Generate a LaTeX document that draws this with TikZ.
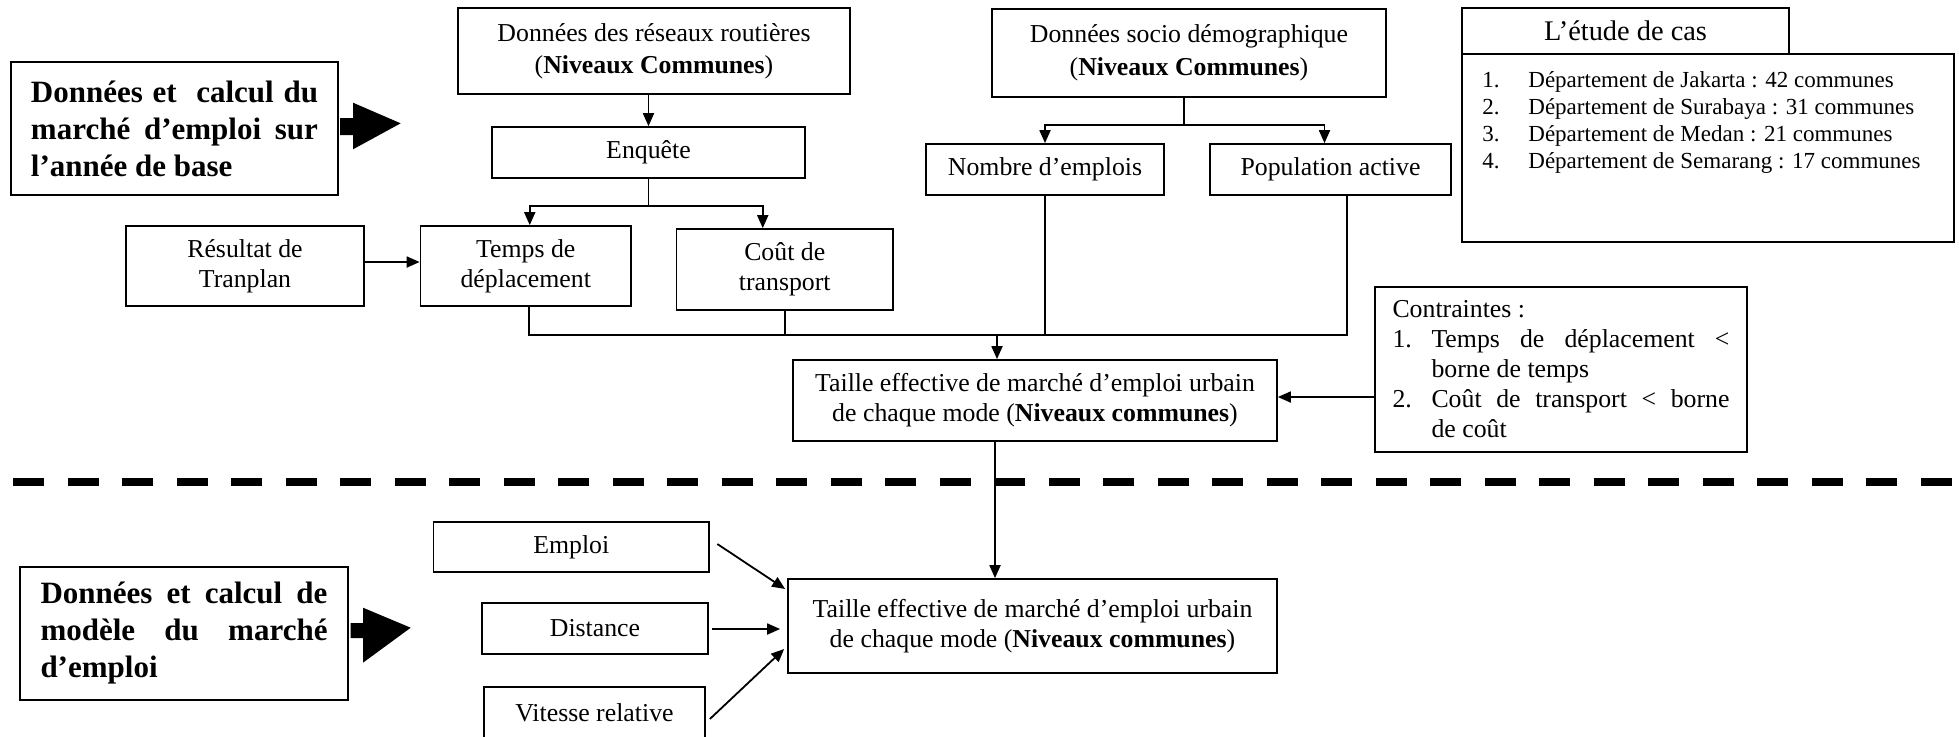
\documentclass[tikz,border=0pt]{standalone}
\usepackage{fontspec}
\setmainfont{Liberation Serif}
\usetikzlibrary{arrows.meta,calc}
\newcommand\fmain{\fontsize{12.9pt}{15pt}\selectfont}
\newcommand\fbold{\fontsize{15.5pt}{18.5pt}\selectfont\bfseries}
\newcommand\flist{\fontsize{11.5pt}{13.5pt}\selectfont}
\newcommand\ftitle{\fontsize{14.2pt}{16pt}\selectfont}
\begin{document}
\begin{tikzpicture}[x=0.5pt,y=-0.5pt,
  box/.style={draw,line width=0.85pt,inner sep=0pt,align=center,font=\fmain},
  conn/.style={line width=0.9pt},
  arr/.style={conn,-{Triangle[length=6.5pt,width=5.5pt]}},
  blockarrow/.style={fill=black},
  separator/.style={line width=3.6pt,dash pattern=on 15.5pt off 11.75pt}]
\useasboundingbox (0,0) rectangle (1959,736);
\fill[white] (0,0) rectangle (1959,736);

% ---------------- upper part ----------------
\node[box,font=\fbold,minimum width=163.5pt,minimum height=66.5pt] (calcA) at (174.5,128.5)
 {\makebox[143.5pt][s]{Données et\ \ calcul du}\\\makebox[143.5pt][s]{marché d’emploi sur}\\\makebox[143.5pt][l]{l’année de base}};
\fill[blockarrow] (340,118) -- (353,118) -- (353,102.7) -- (400.7,123.3) -- (353,149.3) -- (353,135) -- (340,135) -- cycle;

\node[box,minimum width=196pt,minimum height=43pt,font=\fontsize{12.9pt}{16pt}\selectfont] (reseaux) at (654,51)
 {Données des réseaux routières\\(\textbf{Niveaux Communes})};
\node[box,minimum width=156.5pt,minimum height=25.5pt] (enq) at (648.5,152.5) {Enquête};
\node[box,minimum width=105.25pt,minimum height=40pt] (temps) at (525.75,266) {Temps de\\déplacement};
\node[box,minimum width=108.25pt,minimum height=40.5pt] (cout) at (784.75,269.5) {Coût de\\transport};
\node[box,minimum width=119pt,minimum height=40pt] (resultat) at (245,266) {Résultat de\\Tranplan};

\node[box,minimum width=197pt,minimum height=44pt,font=\fontsize{12.9pt}{16.5pt}\selectfont] (socio) at (1189,53)
 {Données socio démographique\\(\textbf{Niveaux Communes})};
\node[box,minimum width=119pt,minimum height=25.5pt] (nombre) at (1045,169.5) {Nombre d’emplois};
\node[box,minimum width=120.5pt,minimum height=25.5pt] (pop) at (1330.5,169.5) {Population active};

\node[box,minimum width=242pt,minimum height=40.5pt] (taille1) at (1035,400.5)
 {Taille effective de marché d’emploi urbain\\de chaque mode (\textbf{Niveaux communes})};
\node[box,minimum width=186pt,minimum height=82.5pt,align=left] (contr) at (1561,369.5)
 {Contraintes :\\
  \makebox[19.5pt][l]{1.}\makebox[149pt][s]{Temps de déplacement <}\\
  \hspace*{19.5pt}borne de temps\\
  \makebox[19.5pt][l]{2.}\makebox[149pt][s]{Coût de transport < borne}\\
  \hspace*{19.5pt}de coût};

\node[box,minimum width=163.5pt,minimum height=23pt,font=\ftitle] (etudetab) at (1625.5,31) {L’étude de cas};
\node[box,minimum width=246pt,minimum height=94pt] (etude) at (1708,148) {};
\node[anchor=north west,inner sep=0pt,align=left,font=\flist] (etudelist) at (1482,71.5)
 {\makebox[23pt][l]{1.}Département de Jakarta : 42 communes\\
  \makebox[23pt][l]{2.}Département de Surabaya : 31 communes\\
  \makebox[23pt][l]{3.}Département de Medan : 21 communes\\
  \makebox[23pt][l]{4.}Département de Semarang : 17 communes};

% connectors upper
\draw[arr] (enq.north |- reseaux.south) -- (enq.north);
\coordinate (j1) at ($(enq.south)+(0,27)$);
\draw[conn] (enq.south) -- (j1);
\draw[arr] (j1) -| ($(temps.north)+(4,0)$);
\draw[arr] (j1) -| ($(cout.north)+(-22,0)$);
\coordinate (r1) at ($(resultat.east)+(0,-4)$);
\draw[arr] (r1) -- (r1 -| temps.west);

\coordinate (j2) at ($(socio.south)+(-5,27)$);
\draw[conn] (j2 |- socio.south) -- (j2);
\draw[arr] (j2) -| (nombre.north);
\draw[arr] (j2) -| ($(pop.north)+(-6,0)$);

\coordinate (j3) at (997,335);
\coordinate (t1) at ($(temps.south)+(3,0)$);
\coordinate (p1) at ($(pop.south)+(16.5,0)$);
\draw[conn] (t1) -- (t1 |- j3) -- (p1 |- j3) -- (p1);
\draw[conn] (cout.south) -- (cout.south |- j3);
\draw[conn] (nombre.south) -- (nombre.south |- j3);
\draw[arr] (j3) -- (j3 |- taille1.north);

\coordinate (c1) at ($(contr.west)+(0,27.5)$);
\draw[arr] (c1) -- (c1 -| taille1.east);

% separator
\draw[separator] (13.3,482) -- (1953,482);

% ---------------- lower part ----------------
\node[box,font=\fbold,minimum width=164pt,minimum height=66.5pt] (calcB) at (184,633.5)
 {\makebox[143.5pt][s]{Données et calcul de}\\\makebox[143.5pt][s]{modèle du marché}\\\makebox[143.5pt][l]{d’emploi}};
\fill[blockarrow] (350.7,623) -- (363,623) -- (363,607.7) -- (410.7,627.7) -- (363,662.7) -- (363,638) -- (350.7,638) -- cycle;

\node[box,minimum width=137.75pt,minimum height=25pt] (emploi) at (571.25,547) {Emploi};
\node[box,minimum width=113pt,minimum height=25.5pt] (distance) at (595,628.5) {Distance};
\node[box,minimum width=110.5pt,minimum height=26pt] (vitesse) at (594.5,713) {Vitesse relative};
\node[box,minimum width=244.5pt,minimum height=47pt] (taille2) at (1032.5,626)
 {Taille effective de marché d’emploi urbain\\de chaque mode (\textbf{Niveaux communes})};

\coordinate (t2) at ($(taille1.south)+(-40,0)$);
\draw[arr] (t2) -- (t2 |- taille2.north);
\draw[arr] ($(emploi.east)+(7.5,-3)$) -- ($(taille2.west)+(-2,-37)$);
\draw[arr] ($(distance.east)+(3.5,0.5)$) -- ($(taille2.west)+(-7,3)$);
\draw[arr] ($(vitesse.east)+(4,6)$) -- ($(taille2.west)+(-3,23)$);
\end{tikzpicture}
\end{document}
